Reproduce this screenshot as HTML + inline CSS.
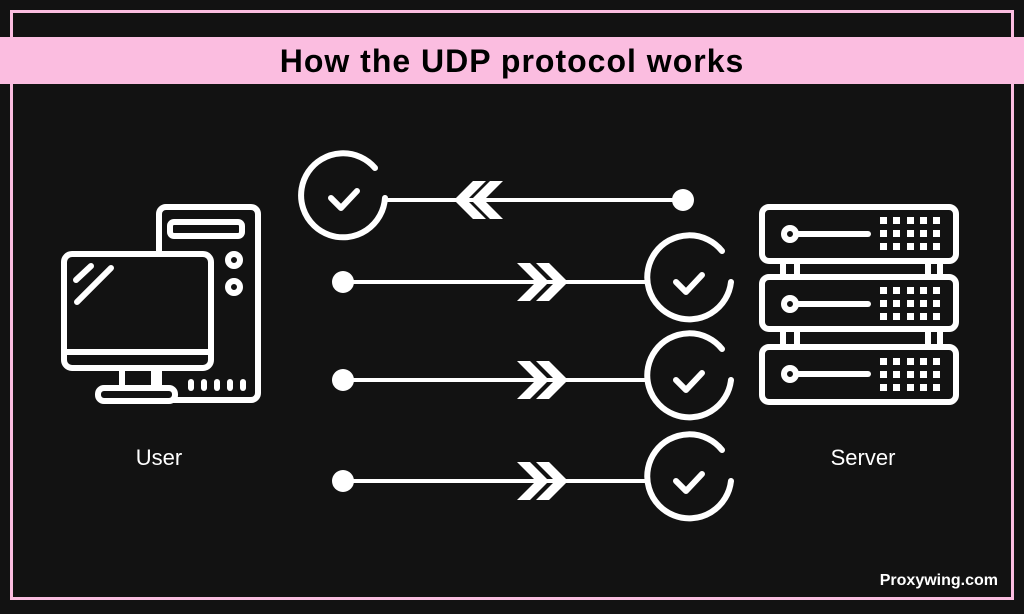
<!DOCTYPE html>
<html><head><meta charset="utf-8"><style>
body{margin:0;background:#121212;}
svg{display:block}
</style></head><body>
<svg width="1024" height="614" viewBox="0 0 1024 614" xmlns="http://www.w3.org/2000/svg">
<rect width="1024" height="614" fill="#121212"/>
<rect x="11.5" y="11.5" width="1001" height="587" fill="none" stroke="#fbbde0" stroke-width="3"/>
<rect x="0" y="37" width="1024" height="47" fill="#fbbde0"/>
<text x="512" y="72" text-anchor="middle" font-family="Liberation Sans, sans-serif" font-weight="bold" font-size="32" letter-spacing="1" fill="#000">How the UDP protocol works</text>
<g fill="none" stroke="#fff" stroke-width="6" stroke-linecap="round" stroke-linejoin="round">
<rect x="159" y="207" width="99" height="193" rx="7"/>
<rect x="170" y="222" width="72" height="14" rx="4"/>
<circle cx="234" cy="260" r="6"/>
<circle cx="234" cy="287" r="6"/>
<line x1="191" y1="382" x2="191" y2="388"/><line x1="204" y1="382" x2="204" y2="388"/><line x1="217" y1="382" x2="217" y2="388"/><line x1="230" y1="382" x2="230" y2="388"/><line x1="243" y1="382" x2="243" y2="388"/>
<rect x="64" y="254" width="147" height="114" rx="8" fill="#121212"/>
<line x1="64" y1="352" x2="211" y2="352"/>
<line x1="122" y1="370" x2="122" y2="388"/><line x1="154" y1="370" x2="154" y2="388"/>
<rect x="98" y="388" width="77" height="13" rx="6" fill="#121212"/>
<line x1="76" y1="280" x2="91" y2="266"/><line x1="77" y1="302" x2="111" y2="268"/>
<rect x="762" y="207" width="194" height="54" rx="7"/>
<rect x="762" y="277" width="194" height="52" rx="7"/>
<rect x="762" y="347" width="194" height="55" rx="7"/>
<line x1="783" y1="264" x2="783" y2="274"/><line x1="797" y1="264" x2="797" y2="274"/><line x1="928" y1="264" x2="928" y2="274"/><line x1="940" y1="264" x2="940" y2="274"/>
<line x1="783" y1="332" x2="783" y2="344"/><line x1="797" y1="332" x2="797" y2="344"/><line x1="928" y1="332" x2="928" y2="344"/><line x1="940" y1="332" x2="940" y2="344"/>
<circle cx="790" cy="234" r="6"/><line x1="796" y1="234" x2="868" y2="234"/>
<circle cx="790" cy="304" r="6"/><line x1="796" y1="304" x2="868" y2="304"/>
<circle cx="790" cy="374" r="6"/><line x1="796" y1="374" x2="868" y2="374"/>
</g>
<g fill="#fff">
<g id="grid">
<rect x="880" y="217" width="7" height="7"/><rect x="893" y="217" width="7" height="7"/><rect x="907" y="217" width="7" height="7"/><rect x="920" y="217" width="7" height="7"/><rect x="933" y="217" width="7" height="7"/>
<rect x="880" y="230" width="7" height="7"/><rect x="893" y="230" width="7" height="7"/><rect x="907" y="230" width="7" height="7"/><rect x="920" y="230" width="7" height="7"/><rect x="933" y="230" width="7" height="7"/>
<rect x="880" y="243" width="7" height="7"/><rect x="893" y="243" width="7" height="7"/><rect x="907" y="243" width="7" height="7"/><rect x="920" y="243" width="7" height="7"/><rect x="933" y="243" width="7" height="7"/>
</g>
<use href="#grid" y="70"/><use href="#grid" y="141"/>
</g>
<g fill="none" stroke="#fff" stroke-linecap="round" stroke-linejoin="round">
<g stroke-width="6">
<path d="M375 168 A42 42 0 1 0 385 198"/>
<path d="M331 198 L341 208 L357 191"/>
</g>
<line x1="385" y1="200" x2="683" y2="200" stroke-width="4"/>
<g stroke-width="4">
<line x1="343" y1="282" x2="648" y2="282"/>
<line x1="343" y1="380" x2="648" y2="380"/>
<line x1="343" y1="481" x2="648" y2="481"/>
</g>
<g stroke-width="6">
<path d="M722 251 A42 42 0 1 0 731 282"/><path d="M676 282 L686 292 L702 275"/>
<path d="M722 349 A42 42 0 1 0 731 380"/><path d="M676 380 L686 390 L702 373"/>
<path d="M722 450 A42 42 0 1 0 731 481"/><path d="M676 481 L686 491 L702 474"/>
</g>
</g>
<g fill="#fff">
<circle cx="683" cy="200" r="11"/>
<circle cx="343" cy="282" r="11"/><circle cx="343" cy="380" r="11"/><circle cx="343" cy="481" r="11"/>
<polygon points="473,181 486,181 467,200 486,219 473,219 454,200"/><polygon points="490,181 503,181 484,200 503,219 490,219 471,200"/>
<g id="rc"><polygon points="517,263 530,263 549,282 530,301 517,301 536,282"/><polygon points="536,263 549,263 568,282 549,301 536,301 555,282"/></g>
<use href="#rc" y="98"/><use href="#rc" y="199"/>
</g>
<g font-family="Liberation Sans, sans-serif" font-size="22" fill="#fff" text-anchor="middle">
<text x="159" y="465">User</text>
<text x="863" y="465">Server</text>
</g>
<text x="998" y="585" text-anchor="end" font-family="Liberation Sans, sans-serif" font-weight="bold" font-size="16" fill="#fff">Proxywing.com</text>
</svg>
</body></html>
